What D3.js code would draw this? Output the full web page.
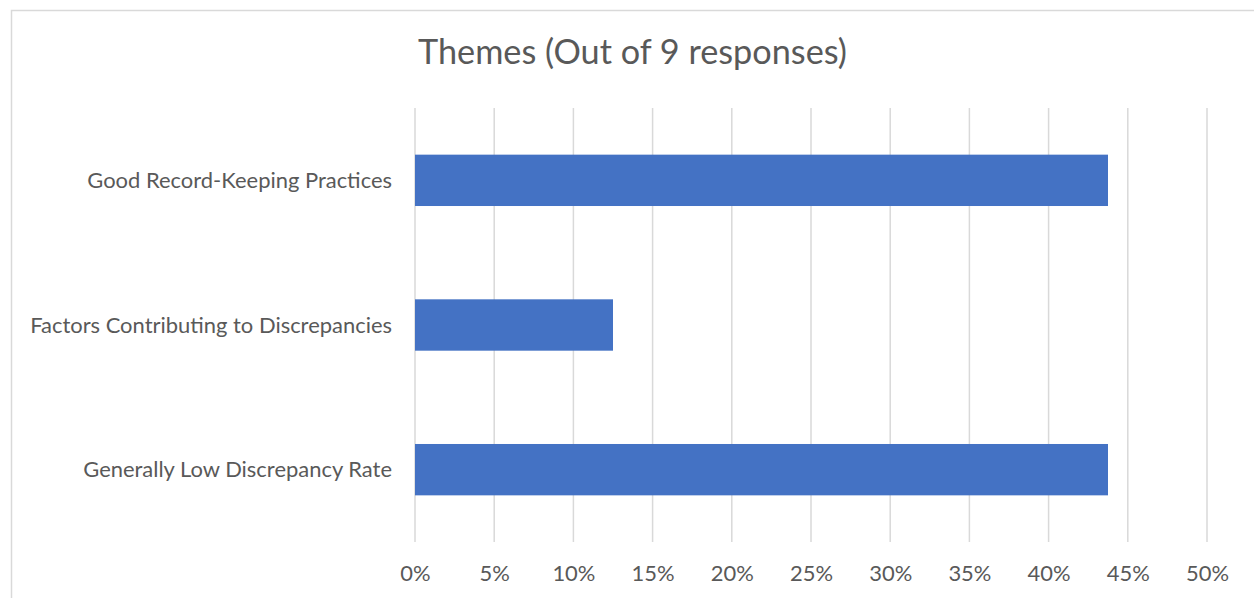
<!DOCTYPE html>
<html>
<head>
<meta charset="utf-8">
<script src="https://cdn.jsdelivr.net/npm/d3@7"></script>
<style>
  html, body { margin: 0; padding: 0; background: #ffffff; }
  svg { display: block; }
  text { font-family: "Lato", "Open Sans", sans-serif; fill: #595959; }
</style>
</head>
<body>
<svg id="chart" width="1254" height="598"></svg>
<script>
const chartTitle = "Themes (Out of 9 responses)";
const categories = ["Good Record-Keeping Practices", "Factors Contributing to Discrepancies", "Generally Low Discrepancy Rate"];
const values = [0.4375, 0.125, 0.4375];
const xTicks = [0, 0.05, 0.10, 0.15, 0.20, 0.25, 0.30, 0.35, 0.40, 0.45, 0.50];

const svg = d3.select("#chart");
const W = 1254, H = 598;
const margin = { left: 415, right: W - 1207, top: 108, bottom: H - 542 };

// chart border (extends past right/bottom edges as in reference)
svg.append("rect")
  .attr("x", 11.5).attr("y", 10.5)
  .attr("width", W + 10).attr("height", H + 10)
  .attr("fill", "#fff").attr("stroke", "#d9d9d9").attr("stroke-width", 1.5);

const x = d3.scaleLinear().domain([0, 0.5]).range([margin.left, W - margin.right]);
const y = d3.scaleBand().domain(categories).range([margin.top, H - margin.bottom]).paddingInner(0.645).paddingOuter(0.3225);

// gridlines
svg.append("g")
  .selectAll("line").data(xTicks).join("line")
  .attr("x1", d => x(d)).attr("x2", d => x(d))
  .attr("y1", margin.top).attr("y2", H - margin.bottom)
  .attr("stroke", "#d9d9d9").attr("stroke-width", 1.5);

// bars
svg.append("g")
  .selectAll("rect").data(categories).join("rect")
  .attr("x", x(0))
  .attr("y", d => y(d))
  .attr("width", (d, i) => x(values[i]) - x(0))
  .attr("height", y.bandwidth())
  .attr("fill", "#4472c4");

// fit helper: scale font so text width matches target
function fit(sel, target) {
  const w = sel.node().getComputedTextLength();
  const fs = parseFloat(sel.attr("font-size"));
  sel.attr("font-size", fs * target / w);
}

// x axis
const xAxis = d3.axisBottom(x).tickValues(xTicks).tickFormat(d3.format(".0%")).tickSize(0).tickPadding(0);
const gx = svg.append("g").attr("transform", `translate(0,${H - margin.bottom})`).call(xAxis);
gx.select(".domain").remove();
gx.selectAll("text").attr("font-size", 20).attr("dy", null).attr("y", 39)
  .style("font-family", "Lato, 'Open Sans', sans-serif").attr("fill", "#595959");

// y axis labels
const yAxis = d3.axisLeft(y).tickSize(0).tickPadding(23);
const gy = svg.append("g").attr("transform", `translate(${margin.left},0)`).call(yAxis);
gy.select(".domain").remove();
gy.selectAll("text").attr("font-size", 20).attr("dy", "0.35em")
  .style("font-family", "Lato, 'Open Sans', sans-serif").attr("fill", "#595959");
// scale label font so the longest label matches reference width
const longest = gy.selectAll("text").filter(d => d === categories[1]);
const w0 = longest.node().getComputedTextLength();
const lfs = 20 * 362 / w0;
gy.selectAll("text").attr("font-size", lfs);
gx.selectAll("text").attr("font-size", lfs);

// title
const t = svg.append("text")
  .attr("x", (418 + 847) / 2).attr("y", 64)
  .attr("text-anchor", "middle").attr("font-size", 32)
  .text(chartTitle);
fit(t, 429);
</script>
</body>
</html>
